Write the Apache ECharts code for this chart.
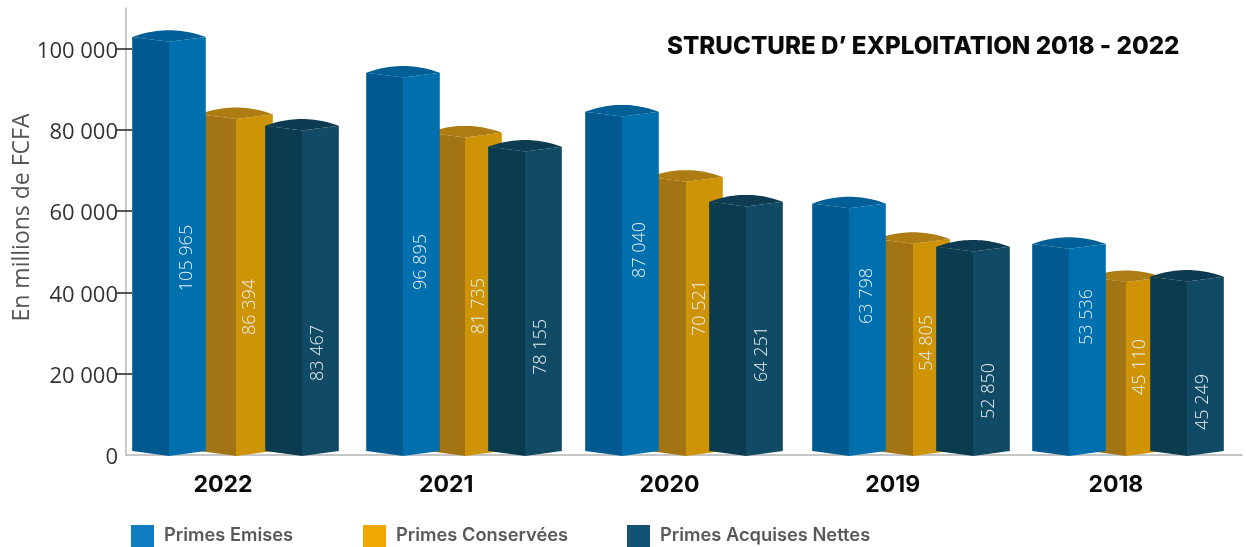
<!DOCTYPE html>
<html lang="fr">
<head>
<meta charset="utf-8">
<title>Structure d'exploitation 2018 - 2022</title>
<script src="https://cdn.jsdelivr.net/npm/echarts@6/dist/echarts.min.js"></script>
<style>
  html, body { margin: 0; padding: 0; background: #fff; }
  #chart { width: 1246px; height: 547px; }
</style>
</head>
<body>
<div id="chart"></div>
<script>
// Figures in millions of FCFA
const years = ['2022', '2021', '2020', '2019', '2018'];
const primesEmises = [105965, 96895, 87040, 63798, 53536];
const primesConservees = [86394, 81735, 70521, 54805, 45110];
const primesAcquises = [83467, 78155, 64251, 52850, 45249];
const axisTicks = [0, 20000, 40000, 60000, 80000, 100000];

// Horizontal placement of each column inside its year band, in pixels
const bandOffsets = [
  [-68.6, -1.6, 64.4],
  [-57.8, 4.2, 64.2],
  [-62, 2, 62],
  [-58.2, 5.8, 65.8],
  [-61.4, -4.4, 56.6]
];
// Height of each rotated value label above the floor, in pixels
const labelLift = [
  [197, 193, 205, 159, 138],
  [148, 149, 147, 112, 88],
  [102, 108, 101, 64, 53]
];
// Distance of the value label from the column's front edge, per series
const labelInset = [18, 14, 16];

const faces = [
  { left: '#005a8f', right: '#006fae', top: '#005f96', key: '#0f7cc0' },
  { left: '#a37413', right: '#cf9405', top: '#ad7c12', key: '#f0a800' },
  { left: '#0b3b4f', right: '#114a64', top: '#0c3b52', key: '#125272' }
];

const HALF = 36.8;      // half the column width
const SHOULDER = 4.7;   // drop of the front edge below the side corners
const DOME = 6.8;       // rise of the rear edge above the side corners
const FOOT = 5;         // rise of the side corners at the floor
const DEPTH_MIN = 1300; // the depth scale starts slightly above zero at the floor
const DEPTH_MAX = 114500;

const spaced = v => String(v).replace(/\B(?=(\d{3})+$)/g, ' ');

function prism(seriesIdx) {
  return function (params, api) {
    const cat = api.value(0);
    const val = api.value(1);
    const c = faces[seriesIdx];
    const cx = api.coord([cat, val])[0] + bandOffsets[cat][seriesIdx];
    const top = api.coord([cat, val])[1];
    const floor = api.coord([cat, DEPTH_MIN])[1] + 1;
    const l = cx - HALF, r = cx + HALF;
    const corner = top - SHOULDER;

    const cap = [[cx, top], [l, corner]];
    for (let i = 1; i < 24; i++) {
      const t = i / 12 - 1;
      cap.push([cx + t * HALF, corner - DOME * (1 - t * t)]);
    }
    cap.push([r, corner]);

    return {
      type: 'group',
      children: [
        { type: 'polygon', shape: { points: [[l, corner], [cx + 0.5, top], [cx + 0.5, floor], [l, floor - FOOT]] }, style: { fill: c.left } },
        { type: 'polygon', shape: { points: [[cx, top], [r, corner], [r, floor - FOOT], [cx, floor]] }, style: { fill: c.right } },
        { type: 'polygon', shape: { points: cap }, style: { fill: c.top } },
        {
          type: 'text',
          x: cx + labelInset[seriesIdx],
          y: floor - 1 - labelLift[seriesIdx][cat],
          rotation: Math.PI / 2,
          style: {
            text: spaced(val),
            fill: '#e8f0f4',
            font: '300 18px "Open Sans"',
            textAlign: 'center',
            textVerticalAlign: 'middle'
          }
        }
      ]
    };
  };
}

function column(name, values, idx, z) {
  return {
    type: 'custom',
    name,
    xAxisIndex: 0,
    yAxisIndex: 2,
    z,
    renderItem: prism(idx),
    encode: { x: 0, y: 1 },
    itemStyle: { color: faces[idx].key },
    data: values.map((v, i) => [i, v])
  };
}

function legendKey(name, idx, left) {
  return {
    left,
    top: 525,
    padding: 0,
    selectedMode: false,
    itemWidth: 23,
    itemHeight: 22,
    icon: 'rect',
    data: [{ name, itemStyle: { color: faces[idx].key } }],
    textStyle: {
      fontFamily: 'Inter',
      fontWeight: 600,
      fontSize: 18.3,
      color: '#58595b',
      padding: [0, 0, 0, 5]
    }
  };
}

const sharedScale = { type: 'value', position: 'left', min: 0, max: 110000, splitLine: { show: false } };

const chart = echarts.init(document.getElementById('chart'), null, { renderer: 'canvas' });
chart.setOption({
  animation: false,
  backgroundColor: '#fff',
  title: {
    text: 'STRUCTURE D’ EXPLOITATION 2018 - 2022',
    left: 667,
    top: 35,
    padding: 0,
    textStyle: { fontFamily: 'Inter', fontWeight: 800, fontSize: 24.2, color: '#0a0a0a' }
  },
  legend: [
    legendKey('Primes Emises', 0, 131),
    legendKey('Primes Conservées', 1, 363),
    legendKey('Primes Acquises Nettes', 2, 627)
  ],
  grid: { left: 126, right: 4, top: 8, bottom: 92, outerBoundsMode: 'none' },
  xAxis: {
    type: 'category',
    data: years,
    axisLine: { lineStyle: { color: '#b4b4b4', width: 1.5 } },
    axisTick: { inside: true, length: 12, lineStyle: { color: '#a8a8a8', width: 1 } },
    axisLabel: {
      margin: 19,
      padding: [0, 29, 0, 0],
      fontFamily: 'Inter',
      fontWeight: 700,
      fontSize: 23,
      color: '#0a0a0a'
    }
  },
  yAxis: [
    Object.assign({}, sharedScale, {
      name: 'En millions de FCFA',
      nameLocation: 'middle',
      nameGap: 92,
      nameMoveOverlap: false,
      nameTextStyle: { fontFamily: 'Open Sans', fontSize: 23, color: '#555', padding: [0, 0, 0, 28] },
      axisLine: { show: true, lineStyle: { color: '#b8b8b8', width: 1.5 } },
      axisTick: {
        show: true,
        length: 10,
        customValues: axisTicks.slice(1),
        lineStyle: { color: '#222', width: 1.5 }
      },
      axisLabel: {
        margin: 8,
        verticalAlign: 'top',
        lineHeight: 6,
        customValues: axisTicks,
        formatter: v => spaced(v),
        fontFamily: 'Open Sans',
        fontSize: 22,
        color: '#333'
      }
    }),
    // Short inner half of the tick marks
    Object.assign({}, sharedScale, {
      axisLine: { show: false },
      axisLabel: { show: false },
      axisTick: {
        show: true,
        inside: true,
        length: 6,
        customValues: axisTicks.slice(1),
        lineStyle: { color: '#222', width: 1.5 }
      }
    }),
    // Depth scale of the columns: fronts sit below the printed graduations
    {
      type: 'value',
      position: 'left',
      min: DEPTH_MIN,
      max: DEPTH_MAX,
      show: false,
      splitLine: { show: false }
    }
  ],
  series: [
    column('Primes Emises', primesEmises, 0, 3),
    column('Primes Conservées', primesConservees, 1, 2),
    column('Primes Acquises Nettes', primesAcquises, 2, 3)
  ]
});
</script>
</body>
</html>
